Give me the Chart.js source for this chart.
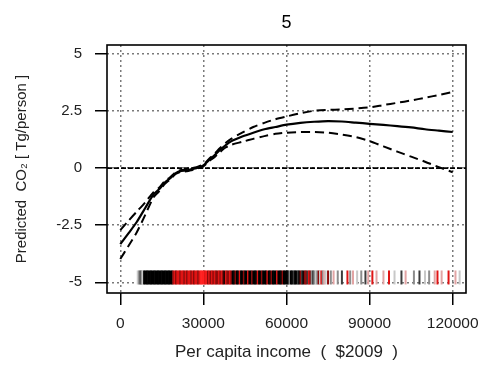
<!DOCTYPE html>
<html>
<head>
<meta charset="utf-8">
<script src="https://cdn.jsdelivr.net/npm/chart.js@4/dist/chart.umd.min.js"></script>
<style>
  html, body { margin: 0; padding: 0; background: #ffffff; }
  #wrap { width: 480px; height: 373px; }
</style>
</head>
<body>
<div id="wrap"><canvas id="c" width="480" height="373"></canvas></div>
<script>
// Panel title and axis titles
const panelTitle = '5';
const xTitle = 'Per capita income  (  $2009  )';
const yTitle = 'Predicted  CO\u2082 [ Tg/person ]';

// Tick values and labels
const xTicks = [0, 30000, 60000, 90000, 120000];
const xTickLabels = ['0', '30000', '60000', '90000', '120000'];
const yTicks = [-5, -2.5, 0, 2.5, 5];
const yTickLabels = ['-5', '-2.5', '0', '2.5', '5'];

// Smooth term: income grid, fitted effect and its upper / lower bands
const income = [0, 3000, 6000, 9000, 12000, 14000, 16000, 18000, 20000, 22000, 24000, 26000,
  28000, 30000, 32000, 34000, 36000, 38000, 40000, 44000, 48000, 52000, 56000, 60000,
  65000, 70000, 75000, 80000, 85000, 90000, 95000, 100000, 105000, 110000, 115000, 120000];
const fitMean = [-3.33, -2.85, -2.35, -1.75, -1.15, -0.93, -0.64, -0.44, -0.22, -0.12, -0.10, -0.04,
  0.02, 0.12, 0.35, 0.56, 0.80, 1.00, 1.17, 1.38, 1.55, 1.70, 1.80, 1.90,
  1.98, 2.03, 2.06, 2.04, 1.99, 1.94, 1.89, 1.84, 1.78, 1.70, 1.64, 1.58];
const fitUpper = [-2.72, -2.30, -1.90, -1.50, -1.05, -0.86, -0.58, -0.40, -0.18, -0.08, -0.06, 0.00,
  0.06, 0.16, 0.40, 0.62, 0.88, 1.10, 1.28, 1.55, 1.80, 1.98, 2.14, 2.26,
  2.40, 2.51, 2.55, 2.57, 2.61, 2.66, 2.76, 2.86, 2.96, 3.08, 3.20, 3.33];
const fitLower = [-3.98, -3.40, -2.80, -2.05, -1.28, -1.02, -0.70, -0.50, -0.26, -0.16, -0.14, -0.08,
  -0.02, 0.08, 0.30, 0.48, 0.70, 0.90, 1.02, 1.15, 1.28, 1.40, 1.50, 1.55,
  1.58, 1.58, 1.55, 1.47, 1.36, 1.18, 0.95, 0.72, 0.50, 0.28, 0.04, -0.18];

// Reference level of the effect
const refLevel = 0;

// Rug of observed incomes and their colour group
const rugIncome = [6300, 6800, 7300, 7700, 8100,
  8600, 9100, 9600, 10100, 10600, 11100, 11600, 12100, 12600, 13100, 13600, 14100, 14600,
  15100, 15600, 16100, 16600, 17100, 17600, 18100, 18600,
  19100, 19600, 20100, 20600, 21100, 21600, 22100, 22600, 23100, 23600, 24100, 24600,
  25100, 25600, 26100, 26600, 27100, 27600, 28100, 28600, 29100, 29600, 30100, 30600,
  31100, 31600, 32100, 32600, 33100, 33600, 34100, 34600, 35100, 35600, 36100, 36600,
  37100, 37600, 38100, 38600, 39100, 39600, 40100,
  40600, 41100, 41600, 42100, 42600, 43100, 43600, 44100, 44600, 45100, 45600, 46100,
  46600, 47100, 47600, 48100, 48600, 49100, 49600, 50100, 50600, 51100, 51600, 52100,
  52600, 53100, 53600, 54100, 54600, 55100, 55600, 56100, 56600, 57100, 57600, 58100,
  58600, 59100, 59600, 60100, 60600, 61100, 61600, 62100, 62600, 63100, 63600, 64100,
  64600, 65100, 65600, 66100, 66600, 67100, 67600, 68100, 68600, 69100, 69600, 70100,
  70600, 71100, 71600, 72100, 72600, 73100, 73600, 74100, 75000, 76000, 77000, 78500,
  80000, 82000, 83000, 84000, 85500, 87000, 88500, 89500, 91000, 92500, 95000, 97000,
  99000, 101500, 103000, 106000, 108000, 110000, 111500, 113500, 114500, 116000, 118500,
  121000, 122500];
const rugGroup = ['L', 'G', 'D', 'G', 'L',
  'K', 'K', 'K', 'K', 'K', 'K', 'K', 'K', 'K', 'K', 'K', 'K', 'K',
  'K', 'K', 'K', 'K', 'K', 'K', 'K', 'K',
  'DR', 'R', 'DR', 'R', 'R', 'DR', 'R', 'R', 'DR', 'R', 'DR', 'R',
  'R', 'DR', 'R', 'DR', 'R', 'R', 'DR', 'R', 'BR', 'BR', 'BR', 'R',
  'BR', 'DR', 'R', 'DR', 'R', 'DR', 'R', 'DR', 'DR', 'R', 'DR', 'R',
  'DR', 'K', 'R', 'DR', 'DR', 'R', 'DR',
  'K', 'K', 'DR', 'K', 'K', 'R', 'K', 'K', 'DR', 'K', 'K', 'R',
  'K', 'K', 'DR', 'K', 'K', 'K', 'R', 'K', 'K', 'DR', 'K', 'K',
  'K', 'R', 'K', 'K', 'DR', 'K', 'K', 'K', 'R', 'K', 'K', 'K',
  'DR', 'K', 'K', 'K', 'K', 'G', 'K', 'K', 'D', 'K', 'K', 'D',
  'K', 'DR', 'D', 'K', 'DR', 'DR', 'D', 'R', 'DR', 'G', 'D', 'G',
  'L', 'G', 'DR', 'L', 'R', 'G', 'P', 'L', 'DR', 'G', 'P', 'G',
  'D', 'R', 'G', 'P', 'L', 'G', 'D', 'P', 'R', 'P', 'P', 'R',
  'L', 'D', 'P', 'G', 'D', 'L', 'G', 'P', 'R', 'P', 'R',
  'P', 'L'];

const rugPalette = {
  K: '#000000', D: '#3c3c3c', G: '#8c8c8c', L: '#c8c8c8',
  DR: '#8e0a0a', R: '#e01414', BR: '#ff2020', P: '#e2a4a4'
};

const FONT = "'Liberation Sans', Arial, Helvetica, sans-serif";
const X_MIN = -4800, X_MAX = 124800;
const Y_MIN = -5.47, Y_MAX = 5.39;
const RUG_Y = -4.79;

const toPts = (ys) => income.map((x, i) => ({ x: x, y: ys[i] }));

// Plot frame and the dashed reference line at the zero effect
const framePlugin = {
  id: 'frame',
  beforeDatasetsDraw(chart) {
    const { ctx, chartArea: a, scales } = chart;
    const y0 = scales.y.getPixelForValue(refLevel);
    ctx.save();
    ctx.strokeStyle = '#000';
    ctx.lineWidth = 1.7;
    ctx.setLineDash([5, 2]);
    ctx.beginPath();
    ctx.moveTo(a.left, y0);
    ctx.lineTo(a.right, y0);
    ctx.stroke();
    ctx.restore();
  },
  afterDraw(chart) {
    const { ctx, chartArea: a } = chart;
    ctx.save();
    ctx.strokeStyle = '#000';
    ctx.lineWidth = 1.6;
    ctx.setLineDash([]);
    ctx.strokeRect(a.left, a.top, a.right - a.left, a.bottom - a.top);
    ctx.restore();
  }
};

const gridCfg = {
  color: '#7a7a7a',
  lineWidth: 1.5,
  borderDash: [2, 3],
  drawTicks: true,
  tickLength: 12,
  tickColor: '#000',
  tickWidth: 1.5,
  tickBorderDash: []
};

new Chart(document.getElementById('c'), {
  type: 'scatter',
  data: {
    datasets: [
      {
        label: 'rug',
        data: rugIncome.map(x => ({ x: x, y: RUG_Y })),
        showLine: false,
        pointStyle: 'line',
        pointRotation: 90,
        pointRadius: 7,
        pointHoverRadius: 7,
        pointBorderWidth: 2,
        pointBorderColor: rugGroup.map(g => rugPalette[g]),
        pointBackgroundColor: rugGroup.map(g => rugPalette[g]),
        order: 5
      },
      {
        label: 'upper',
        data: toPts(fitUpper),
        showLine: true,
        borderColor: '#000',
        borderWidth: 2,
        borderDash: [9, 5],
        pointRadius: 0,
        tension: 0.25,
        order: 2
      },
      {
        label: 'lower',
        data: toPts(fitLower),
        showLine: true,
        borderColor: '#000',
        borderWidth: 2,
        borderDash: [9, 5],
        pointRadius: 0,
        tension: 0.25,
        order: 2
      },
      {
        label: 'fit',
        data: toPts(fitMean),
        showLine: true,
        borderColor: '#000',
        borderWidth: 2.2,
        pointRadius: 0,
        tension: 0.25,
        order: 1
      }
    ]
  },
  options: {
    responsive: false,
    animation: false,
    devicePixelRatio: 1,
    layout: { padding: { left: 0, right: 14, top: 0, bottom: 0 } },
    plugins: {
      legend: { display: false },
      tooltip: { enabled: false },
      title: { display: false }
    },
    scales: {
      x: {
        type: 'linear',
        position: 'bottom',
        min: X_MIN,
        max: X_MAX,
        afterBuildTicks: (s) => { s.ticks = xTicks.map(v => ({ value: v })); },
        afterFit: (s) => { s.height = 80; s.paddingLeft = 0; s.paddingRight = 0; },
        ticks: {
          autoSkip: false,
          maxRotation: 0,
          padding: 9,
          color: '#222',
          font: { family: FONT, size: 15.5 },
          callback: (v) => xTickLabels[xTicks.indexOf(v)]
        },
        grid: gridCfg,
        border: { display: false, dash: [2, 3] },
        title: {
          display: true,
          text: xTitle,
          color: '#222',
          font: { family: FONT, size: 17 },
          padding: { top: 0, bottom: 10 }
        }
      },
      top: {
        type: 'linear',
        position: 'top',
        min: X_MIN,
        max: X_MAX,
        afterFit: (s) => { s.height = 45; s.paddingLeft = 0; s.paddingRight = 0; },
        ticks: { display: false },
        grid: { display: false, drawTicks: false },
        border: { display: false },
        title: {
          display: true,
          text: panelTitle,
          color: '#000',
          font: { family: FONT, size: 18 },
          padding: { top: 12, bottom: 0 }
        }
      },
      y: {
        type: 'linear',
        min: Y_MIN,
        max: Y_MAX,
        afterBuildTicks: (s) => { s.ticks = yTicks.map(v => ({ value: v })); },
        afterFit: (s) => { s.width = 107; s.paddingTop = 0; s.paddingBottom = 0; },
        ticks: {
          autoSkip: false,
          padding: 13,
          color: '#222',
          font: { family: FONT, size: 15 },
          callback: (v) => yTickLabels[yTicks.indexOf(v)]
        },
        grid: gridCfg,
        border: { display: false, dash: [2, 3] },
        title: {
          display: true,
          text: yTitle,
          color: '#222',
          font: { family: FONT, size: 15 },
          padding: { top: 13, bottom: 0 }
        }
      }
    }
  },
  plugins: [framePlugin]
});
</script>
</body>
</html>
